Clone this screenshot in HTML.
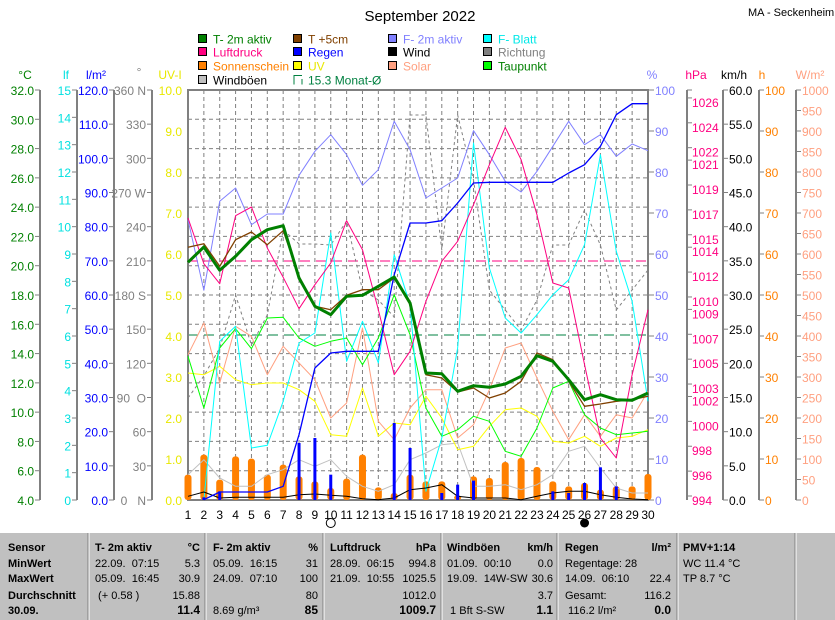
<!DOCTYPE html>
<html><head><meta charset="utf-8"><style>
body{margin:0;background:#fff;}
svg{display:block;font-family:"Liberation Sans",sans-serif;font-size:12px;}
</style></head><body>
<svg id="s" width="835" height="620" xmlns="http://www.w3.org/2000/svg"></svg>
<script>
const s=document.getElementById('s');let h='';
const X=d=>188+(d-1)*15.862;
const Z=a=>a.map(v=>88+v/3);
function t(x,y,str,c,anchor,extra){h+=`<text x="${x}" y="${y}" fill="${c}" text-anchor="${anchor||'start'}" ${extra||''}>${str}</text>`;}
function l(x1,y1,x2,y2,c,w,extra){h+=`<line x1="${x1}" y1="${y1}" x2="${x2}" y2="${y2}" stroke="${c}" stroke-width="${w||1}" ${extra||''}/>`;}
function pl(ys,c,w,start,extra){let p=ys.map((y,i)=>X(i+1+(start||0))+','+y.toFixed(1)).join(' ');h+=`<polyline points="${p}" fill="none" stroke="${c}" stroke-width="${w||1}" stroke-linejoin="round" ${extra||''}/>`;}
// title
t(420,21,'September 2022','#000','middle','font-size="15"');
t(748,16,'MA - Seckenheim','#000','start','font-size="11"');
// legend
const leg=[[198,39,'#008000','T- 2m aktiv','#008000'],[293,39,'#804000','T +5cm','#804000'],[388,39,'#8080ff','F- 2m aktiv','#8080ff'],[483,39,'#00ffff','F- Blatt','#00e8e8'],
[198,52,'#ff0080','Luftdruck','#ff0080'],[293,52,'#0000ff','Regen','#0000ff'],[388,52,'#000','Wind','#000'],[483,52,'#808080','Richtung','#808080'],
[198,66,'#ff8000','Sonnenschein','#ff8000'],[293,66,'#ffff00','UV','#e8e800'],[388,66,'#ffa080','Solar','#ffa080'],[483,66,'#00ff00','Taupunkt','#008000'],
[198,80,'#c0c0c0','Windböen','#000']];
leg.forEach(a=>{h+=`<rect x="${a[0]+0.5}" y="${a[1]-4.5}" width="8" height="8" fill="${a[2]}" stroke="#000"/>`;t(a[0]+15,a[1]+4.5,a[3],a[4]);});
h+=`<path d="M294 84.5 V75.5 H302 M302 79 V84.5" fill="none" stroke="#008040"/>`;t(308,84.5,'15.3 Monat-Ø','#008040');
// grid
for(let d=1;d<=30;d++)l(X(d),90,X(d),500,'#808080',1,'stroke-dasharray="4,3"');
for(let k=1;k<14;k++){let y=90+k*410/14;l(188,y,648,y,'#808080',1,'stroke-dasharray="4,3"');}
l(188,261,648,261,'#ff0080',1,'stroke-dasharray="10,6"');
l(188,335,648,335,'#008040',1,'stroke-dasharray="10,6"');
// left axes
t(25,79,'°C','#008000','middle');t(66,79,'lf','#00e0e0','middle');t(96,79,'l/m²','#0000ff','middle');t(139,76,'°','#808080','middle');t(170,79,'UV-I','#e8e800','middle');
function axis(lx,n,fmt,c,tick){for(let k=0;k<=n;k++){let y=500-k*410/n;if(tick)l(lx-5,y,lx,y,'#808080');t(lx-6,y+5,fmt(k),c,'end');}if(tick)l(lx,90,lx,500,'#808080',2);}
axis(40,14,k=>(4+2*k).toFixed(1),'#008000',1);
axis(77,15,k=>k,'#00e0e0',1);
axis(114,12,k=>(k*10).toFixed(1),'#0000ff',1);
const deg={0:'0&#160;&#160;&#160;N',3:'90&#160;&#160;O',6:'180 S',9:'270 W',12:'360 N'};
axis(152,12,k=>deg[k]||k*30,'#808080',1);
axis(188,10,k=>k.toFixed(1),'#e8e800',0);
// plot border
h+=`<rect x="188" y="90" width="460" height="410" fill="none" stroke="#808080" stroke-width="2"/>`;
// right axes
t(652,79,'%','#8080ff','middle');t(696,79,'hPa','#ff0080','middle');t(734,79,'km/h','#000','middle');t(762,79,'h','#ff8000','middle');t(810,79,'W/m²','#ffa080','middle');
function raxis(lx,n,fmt,c,line){if(line)l(lx,90,lx,500,'#808080',2);for(let k=0;k<=n;k++){let y=500-k*410/n;l(lx,y,lx+5,y,'#808080');t(lx+6,y+5,fmt(k),c);}}
raxis(649,10,k=>k*10,'#8080ff',0);
raxis(723,12,k=>(k*5).toFixed(1),'#000',1);
raxis(759,10,k=>k*10,'#ff8000',1);
raxis(796,20,k=>k*50,'#ffa080',1);
l(687,90,687,500,'#808080',2);l(687,90,692,90,'#808080');
[1026,1024,1022,1021,1019,1017,1015,1014,1012,1010,1009,1007,1005,1003,1002,1000,998,996,994].forEach(v=>{let y=500-(v-994)*12.44;l(687,y-4,692,y-4,'#808080');t(692,y+5,v,'#ff0080');});
// x labels
for(let d=1;d<=30;d++)t(X(d),519,d,'#000','middle');
h+=`<circle cx="${X(10)}" cy="523" r="4.5" fill="#fff" stroke="#000"/><circle cx="${X(26)}" cy="523" r="4.5" fill="#000"/>`;
// sunshine bars
const sun=Z([1160,1100,1175,1105,1112,1160,1130,1165,1180,1200,1172,1100,1198,1215,1160,1180,1180,1222,1165,1170,1122,1110,1137,1180,1195,1185,1205,1195,1195,1158]);
sun.forEach((y,i)=>{h+=`<rect x="${X(i+1)-3.5}" y="${y}" width="7" height="${500-y}" rx="3" fill="#ff8000"/>`;});
// series
pl(Z([1160,1115,1170,1195,1195,1160,1145,1115,1135,1115,1165,1195,1210,1190,1115,1095,1070,1065,1195,1195,1190,1205,1190,1160,1090,1075,1140,1200,1215,1215]),'#c0c0c0');
pl([398,376,348,295,345,315,230,244,244,245,221,290,300,317,115,115,250,115,180,290,310,330,300,245,245,210,245,310,290,270],'#808080',1,0,'stroke-dasharray="3,3"');
pl(Z([855,860,835,875,890,885,885,905,940,1040,1045,900,1045,1005,1010,925,990,1085,1075,1015,965,960,985,1060,1065,1045,1075,1050,1045,1025]),'#ffff00');
pl(Z([800,705,885,715,745,860,775,825,875,990,945,720,1000,1055,960,905,905,1050,1010,905,780,765,870,970,1055,980,1045,980,990,910]),'#ffa080');
pl(Z([805,960,780,722,782,690,688,750,775,760,750,830,750,620,740,960,1045,1025,985,1000,1090,1105,1020,900,880,980,1020,1040,1035,1030]),'#00ff00');
pl(Z([1235,760,715,1080,1072,940,765,735,435,820,700,825,500,650,1210,1050,780,165,540,690,735,680,620,575,470,200,490,640,940]),'#00ffff',1,1);
pl(Z([395,607,340,300,410,378,378,262,190,140,200,292,245,100,185,330,300,270,128,200,280,312,250,175,100,170,140,205,168,188]),'#8080ff');
pl(Z([390,527,587,383,357,480,568,662,590,525,398,485,665,860,790,640,520,460,350,230,118,215,380,585,600,830,1050,1110,860,665]),'#ff0080');
pl(Z([1225,1212,1230,1228,1228,1228,1228,1220,1218,1222,1225,1232,1235,1230,1205,1200,1190,1225,1230,1230,1230,1235,1225,1215,1210,1210,1220,1228,1233,1235]),'#000');
// rain bars
const rb={2:1228,3:1210,8:1065,9:1050,10:1160,14:1005,15:1080,17:1215,18:1190,19:1178,24:1210,25:1215,26:1185,27:1138,28:1195};
for(const d in rb){let y=88+rb[d]/3;h+=`<rect x="${X(+d)-1.5}" y="${y}" width="3" height="${500-y}" fill="#0000ff"/>`;}
pl(Z([1235,1212,1212,1212,1212,1195,1040,840,795,790,790,790,560,405,405,398,345,285,283,283,283,283,283,255,230,175,80,47,47]),'#0000ff',1.3,1);
pl(Z([478,467,535,455,432,470,428,565,655,665,622,605,605,570,650,860,870,912,900,930,915,880,795,815,880,955,948,940,935,925]),'#804000',1.3);
pl(Z([523,477,547,505,455,425,413,570,655,680,625,622,595,567,645,855,857,910,893,898,888,865,803,820,875,935,920,935,937,915]),'#008000',3);
// table
h+=`<rect x="0" y="533" width="835" height="87" fill="#c0c0c0"/>`;
[88,205,323,441,557,677,795].forEach(x=>{l(x,533,x,620,'#808080');l(x+1,533,x+1,620,'#fff');});
const rows=[551,567,582,599,614];
const B='font-weight="bold"';
h+='<g font-size="11">';
['Sensor','MinWert','MaxWert','Durchschnitt','30.09.'].forEach((v,i)=>t(8,rows[i],v,'#000','start',B));
function col(lx,rx,hl,hr,cells){t(lx,rows[0],hl,'#000','start',B);t(rx,rows[0],hr,'#000','end',B);cells.forEach((c,i)=>{if(c[0])t(lx,rows[i+1],c[0],'#000');if(c[1])t(rx,rows[i+1],c[1],'#000','end',i==3?B+' font-size="12"':'');});}
col(95,200,'T- 2m aktiv','°C',[['22.09.&#160; 07:15','5.3'],['05.09.&#160; 16:45','30.9'],['&#160;(+ 0.58 )','15.88'],['','11.4']]);
col(213,318,'F- 2m aktiv','%',[['05.09.&#160; 16:15','31'],['24.09.&#160; 07:10','100'],['','80'],['8.69 g/m³','85']]);
col(330,436,'Luftdruck','hPa',[['28.09.&#160; 06:15','994.8'],['21.09.&#160; 10:55','1025.5'],['','1012.0'],['','1009.7']]);
col(447,553,'Windböen','km/h',[['01.09.&#160; 00:10','0.0'],['19.09.&#160; 14W-SW','30.6'],['','3.7'],['&#160;1 Bft S-SW','1.1']]);
col(565,671,'Regen','l/m²',[['Regentage: 28',''],['14.09.&#160; 06:10','22.4'],['Gesamt:','116.2'],['&#160;116.2 l/m²','0.0']]);
t(683,rows[0],'PMV+1:14','#000','start',B);t(683,rows[1],'WC 11.4 °C','#000');t(683,rows[2],'TP 8.7 °C','#000');
h+='</g>';
s.innerHTML=h;
</script>
</body></html>
